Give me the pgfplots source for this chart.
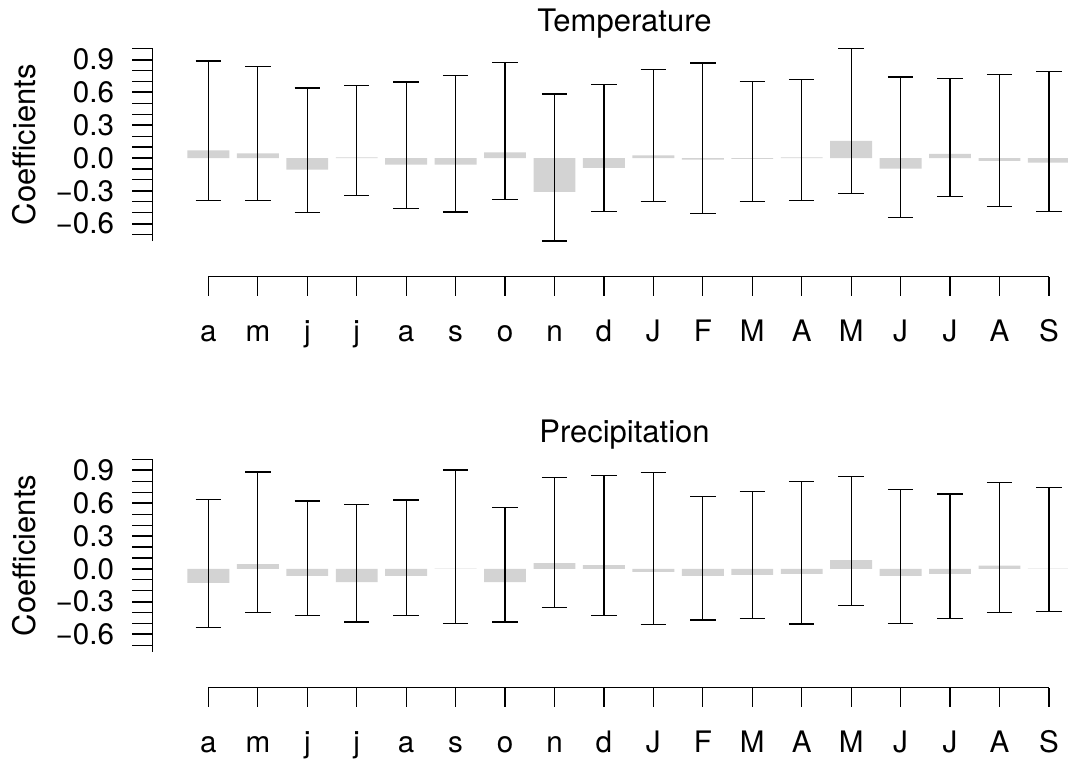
\documentclass[border=0pt]{standalone}
\usepackage{pgfplots}
\pgfplotsset{compat=1.18}
\usepackage{pgfplotstable}
\usepackage{fontspec}
\setmainfont{TeX Gyre Heros}
\definecolor{bargray}{RGB}{211,211,211}

% bootstrapped response coefficients, with their confidence limits
\pgfplotstableread{
x  coef    lo      hi
1   0.070  -0.386  0.888
2   0.043  -0.392  0.839
3  -0.107  -0.496  0.640
4   0.005  -0.340  0.664
5  -0.061  -0.459  0.695
6  -0.061  -0.493  0.753
7   0.052  -0.376  0.875
8  -0.309  -0.759  0.585
9  -0.089  -0.490  0.676
10  0.024  -0.395  0.808
11 -0.015  -0.505  0.869
12 -0.008  -0.395  0.701
13  0.006  -0.386  0.716
14  0.156  -0.321  1.004
15 -0.098  -0.542  0.741
16  0.037  -0.355  0.725
17 -0.026  -0.441  0.762
18 -0.043  -0.487  0.793
}\temptab

\pgfplotstableread{
x  coef    lo      hi
1  -0.128  -0.539  0.636
2   0.043  -0.396  0.886
3  -0.064  -0.429  0.621
4  -0.122  -0.487  0.591
5  -0.064  -0.429  0.630
6   0.003  -0.499  0.904
7  -0.122  -0.487  0.563
8   0.052  -0.356  0.837
9   0.033  -0.429  0.852
10 -0.028  -0.511  0.883
11 -0.064  -0.469  0.661
12 -0.055  -0.454  0.709
13 -0.046  -0.505  0.801
14  0.079  -0.332  0.843
15 -0.064  -0.502  0.728
16 -0.046  -0.457  0.685
17  0.030  -0.396  0.788
18  0.002  -0.393  0.746
}\prectab

\pgfplotsset{
  coefpanel/.style={
    scale only axis, width=460.55pt, height=96.4pt,
    xmin=-0.1306, xmax=18.5, ymin=-0.76, ymax=1.004,
    axis x line=none, axis y line*=left,
    axis line style={line width=0.7pt},
    clip=false,
    ytick={-0.6,-0.3,0,0.3,0.6,0.9},
    yticklabels={−0.6,−0.3,0.0,0.3,0.6,0.9},
    minor ytick={-0.7,-0.5,-0.4,-0.2,-0.1,0.1,0.2,0.4,0.5,0.7,0.8,1.0},
    tick align=outside,
    major tick length=10pt, minor tick length=10pt,
    major tick style={line width=1pt, black},
    minor tick style={line width=0.6pt, black},
    yticklabel style={font=\fontsize{14.8}{17}\selectfont, anchor=east, inner sep=0pt, xshift=-9pt},
    ylabel={Coefficients},
    ylabel style={font=\fontsize{15.5}{18}\selectfont, at={(axis description cs:-0.139,0.5)}, anchor=center},
    every axis title/.style={font=\fontsize{15.5}{18}\selectfont, at={(axis description cs:0.5124,1)}, anchor=base, yshift=8.3pt},
  },
  monthaxis/.style={
    scale only axis, width=420.25pt, height=5pt,
    xmin=1, xmax=18, ymin=0, ymax=1,
    axis x line*=bottom, axis y line=none,
    axis line style={line width=0.6pt},
    xtick={1,...,18},
    xticklabels={a,m,j,j,a,s,o,n,d,J,F,M,A,M,J,J,A,S},
    tick align=outside, major tick length=9.5pt,
    major tick style={line width=0.6pt, black},
    xticklabel style={font=\fontsize{14.8}{17}\selectfont, anchor=base, inner sep=0pt, yshift=-23pt},
  },
  whiskers/.style={
    draw=none, mark=none,
    error bars/.cd, y dir=both, y explicit, error mark=|,
    error bar style={draw=black, line width=0.6pt, solid},
    error mark options={draw=black, line width=0.6pt, mark size=6.35pt},
  },
}

\begin{document}
\begin{tikzpicture}
\path[use as bounding box] (0,0) rectangle (534pt,-381.5pt);

\begin{axis}[coefpanel, at={(76.25pt,-24.15pt)}, anchor=north west, title={Temperature}]
\addplot[ybar, bar width=0.847, bar shift=0pt, fill=bargray, draw=none] table[x=x, y=coef] {\temptab};
\addplot[whiskers] table[x=x, y=lo, y error plus expr=\thisrow{hi}-\thisrow{lo}, y error minus expr=0] {\temptab};
\end{axis}
\begin{axis}[monthaxis, at={(104.2pt,-138.35pt)}, anchor=south west]
\end{axis}

\begin{axis}[coefpanel, at={(76.25pt,-229.55pt)}, anchor=north west, title={Precipitation}]
\addplot[ybar, bar width=0.847, bar shift=0pt, fill=bargray, draw=none] table[x=x, y=coef] {\prectab};
\addplot[whiskers] table[x=x, y=lo, y error plus expr=\thisrow{hi}-\thisrow{lo}, y error minus expr=0] {\prectab};
\end{axis}
\begin{axis}[monthaxis, at={(104.2pt,-343.75pt)}, anchor=south west]
\end{axis}
\end{tikzpicture}
\end{document}
